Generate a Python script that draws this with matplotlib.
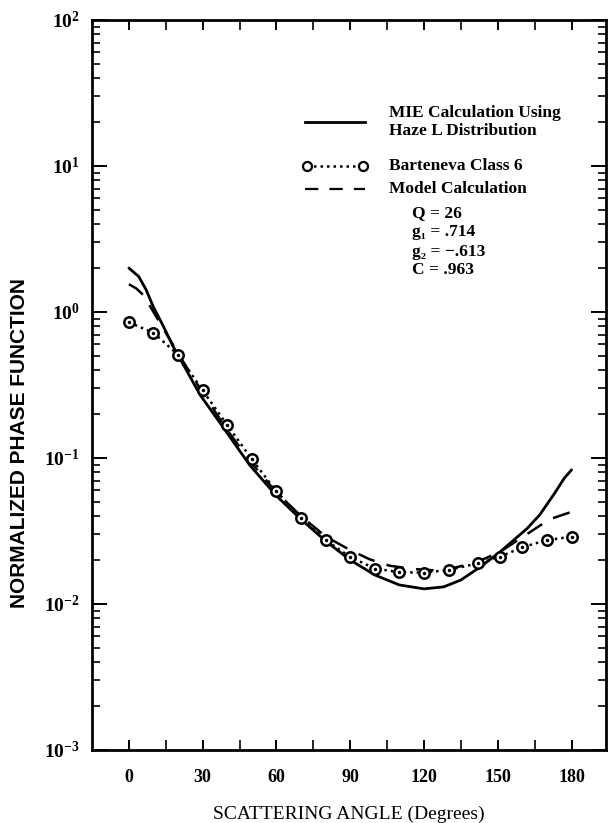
import matplotlib
matplotlib.use("Agg")
import matplotlib.pyplot as plt
from matplotlib.ticker import FixedLocator, NullFormatter
import numpy as np

# ---- data ----
mie_angle = [0, 4, 7, 10, 14, 18, 22, 29, 40, 49, 60, 70, 80, 90, 100, 110, 120,
             128, 135, 143, 151, 162, 167, 173, 177, 180]
mie_value = [2.0, 1.75, 1.42, 1.08, 0.80, 0.58, 0.44, 0.27, 0.148, 0.090, 0.055,
             0.038, 0.027, 0.020, 0.0158, 0.0135, 0.0127, 0.0131, 0.0146, 0.018,
             0.0228, 0.033, 0.0407, 0.057, 0.0726, 0.083]

bart_angle = [0, 10, 20, 30, 40, 50, 60, 70, 80, 90, 100, 110, 120, 130, 142, 151,
              160, 170, 180]
bart_value = [0.85, 0.72, 0.51, 0.29, 0.168, 0.098, 0.059, 0.039, 0.0274, 0.021,
              0.0175, 0.0165, 0.0164, 0.0171, 0.019, 0.0211, 0.0245, 0.0274, 0.0289]

model_angle = [0, 3, 6, 10, 20, 30, 40, 50, 60, 70, 80, 90, 98, 106, 115, 124, 131,
               141, 151, 163, 171, 180]
model_value = [1.55, 1.45, 1.30, 1.0, 0.52, 0.28, 0.155, 0.092, 0.058, 0.040, 0.029,
               0.0234, 0.0202, 0.0183, 0.0174, 0.0170, 0.0175, 0.0192, 0.0228, 0.031,
               0.038, 0.0428]

x_ticks = [0, 30, 60, 90, 120, 150, 180]
x_minor = [15, 45, 75, 105, 135, 165]
y_decades = [1e-3, 1e-2, 1e-1, 1e0, 1e1, 1e2]
y_tick_labels = [r"$\mathbf{10^{-3}}$", r"$\mathbf{10^{-2}}$", r"$\mathbf{10^{-1}}$",
                 r"$\mathbf{10^{0}}$", r"$\mathbf{10^{1}}$", r"$\mathbf{10^{2}}$"]

legend_labels = ["MIE Calculation Using\nHaze L Distribution", "Barteneva Class 6",
                 "Model Calculation"]
param_labels = ["Q = 26", "g\u2081 = .714", "g\u2082 = \u2212.613", "C = .963"]

# ---- figure ----
serif = ["Liberation Serif", "DejaVu Serif"]
plt.rcParams["mathtext.fontset"] = "custom"
plt.rcParams["mathtext.rm"] = "Liberation Serif"
plt.rcParams["mathtext.bf"] = "Liberation Serif:bold"

fig = plt.figure(figsize=(6.08, 8.23), dpi=100)
ax = fig.add_axes([92 / 608, 1 - 750 / 823, 514 / 608, 730 / 823])

ax.plot(mie_angle, mie_value, color="black", lw=2.0, solid_capstyle="round")
ax.plot(model_angle, model_value, color="black", lw=1.8, dashes=(7, 5))
ax.plot(bart_angle, bart_value, color="black", lw=1.8, ls=(0, (1, 1.6)))
ax.plot(bart_angle, bart_value, ls="none", marker="o", ms=7.5, mfc="white",
        mec="black", mew=1.8)
ax.plot(bart_angle, bart_value, ls="none", marker="o", ms=1.5, mfc="black",
        mec="black")

ax.set_yscale("log")
ax.set_xlim(-15, 194)
ax.set_ylim(1e-3, 1e2)

ax.xaxis.set_major_locator(FixedLocator(x_ticks))
ax.xaxis.set_minor_locator(FixedLocator(x_minor))
ax.set_xticklabels([str(v) for v in x_ticks], fontfamily=serif, fontweight="bold",
                   fontsize=13)
ax.yaxis.set_major_locator(FixedLocator(y_decades))
ax.set_yticklabels(y_tick_labels, fontsize=14)
minor_y = [m * d for d in y_decades[:-1] for m in range(2, 10)]
ax.yaxis.set_minor_locator(FixedLocator(minor_y))
ax.yaxis.set_minor_formatter(NullFormatter())

ax.tick_params(axis="both", which="major", direction="in", length=11, width=1.4,
               top=True, right=True, pad=9)
ax.tick_params(axis="both", which="minor", direction="in", length=6, width=1.2,
               top=True, right=True)
ax.tick_params(axis="x", which="major", length=7, pad=14)
ax.tick_params(axis="x", which="minor", length=7)
for s in ax.spines.values():
    s.set_linewidth(2.0)

ax.set_xlabel("SCATTERING ANGLE (Degrees)", fontfamily=serif, fontsize=14,
              labelpad=14)
ax.set_ylabel("NORMALIZED PHASE FUNCTION",
              fontfamily=["Liberation Sans Narrow", "Liberation Sans"],
              fontweight="bold", fontsize=15)
ax.yaxis.set_label_coords(-0.122, 0.42)

# ---- legend drawn as text ----
def px2ax(px, py):
    return ((px - 92) / 514, (750 - py) / 730)

tkw = dict(transform=ax.transAxes, fontfamily=serif, fontweight="bold",
           fontsize=12.5, va="center", ha="left", color="black")

x0, y0 = px2ax(305, 122)
x1, _ = px2ax(365, 122)
ax.plot([x0, x1], [y0, y0], transform=ax.transAxes, color="black", lw=2.0)
tx, ty = px2ax(389, 122)
ax.text(tx, ty, legend_labels[0], linespacing=1.1, **tkw)

x0, y0 = px2ax(307, 166)
x1, _ = px2ax(363, 166)
ax.plot([x0, x1], [y0, y0], transform=ax.transAxes, color="black", lw=1.8,
        ls=(0, (1, 1.6)))
ax.plot([x0, x1], [y0, y0], transform=ax.transAxes, ls="none", marker="o",
        ms=6.5, mfc="white", mec="black", mew=1.6)
tx, ty = px2ax(389, 166)
ax.text(tx, ty, legend_labels[1], **tkw)

x0, y0 = px2ax(305, 189)
x1, _ = px2ax(365, 189)
ax.plot([x0, x1], [y0, y0], transform=ax.transAxes, color="black", lw=1.6,
        dashes=(6, 5))
tx, ty = px2ax(389, 189)
ax.text(tx, ty, legend_labels[2], **tkw)

for lab, py in zip(param_labels, [213, 232, 252, 270]):
    tx, ty = px2ax(412, py)
    ax.text(tx, ty, lab, **tkw)

fig.savefig("out.png", dpi=100)
